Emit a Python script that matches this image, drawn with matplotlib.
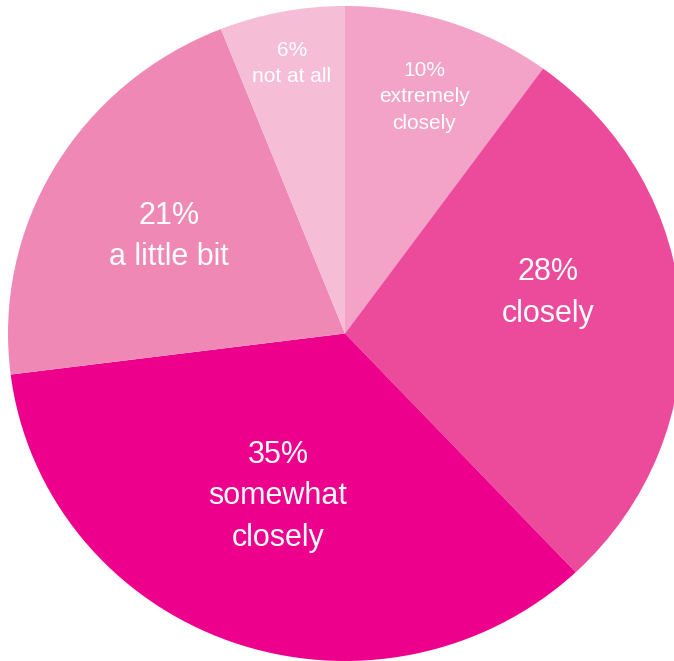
import numpy as np
import matplotlib
matplotlib.use('Agg')
import matplotlib.pyplot as plt

# pie data, clockwise from the top
shares = [10, 28, 35, 21, 6]
pct_labels = ['10%', '28%', '35%', '21%', '6%']
names = ['extremely\nclosely', 'closely', 'somewhat\nclosely', 'a little bit', 'not at all']
colors = ['#F2A3C7', '#EC4A9A', '#EC008C', '#F088B5', '#F5BED6']

# label placement (radius, angle nudge in degrees, font size)
label_r = [0.76, 0.615, 0.535, 0.60, 0.84]
label_nudge = [0, 8, -2, 1, 0]
label_size = [15, 22, 22, 22, 15]

fig = plt.figure(figsize=(6.74, 6.61), dpi=100)
ax = fig.add_axes([0, 0, 1, 1])

wedges, _ = ax.pie(shares, colors=colors, startangle=90, counterclock=False,
                   wedgeprops=dict(linewidth=0))

# picture is slightly stretched horizontally, keep aspect free
ax.set_aspect('auto')
cx, cy, rx, ry = 345, 333.5, 337, 327.5
ax.set_xlim(-cx / rx, (674 - cx) / rx)
ax.set_ylim(-(661 - cy) / ry, cy / ry)
ax.axis('off')

for w, p, n, r, d, s in zip(wedges, pct_labels, names, label_r, label_nudge, label_size):
    ang = np.deg2rad((w.theta1 + w.theta2) / 2 + d)
    ax.text(r * np.cos(ang), r * np.sin(ang), p + '\n' + n, ha='center', va='center',
            color='white', fontsize=s, linespacing=1.5,
            family=['Liberation Sans', 'DejaVu Sans'])

fig.savefig('out.png', dpi=100)
